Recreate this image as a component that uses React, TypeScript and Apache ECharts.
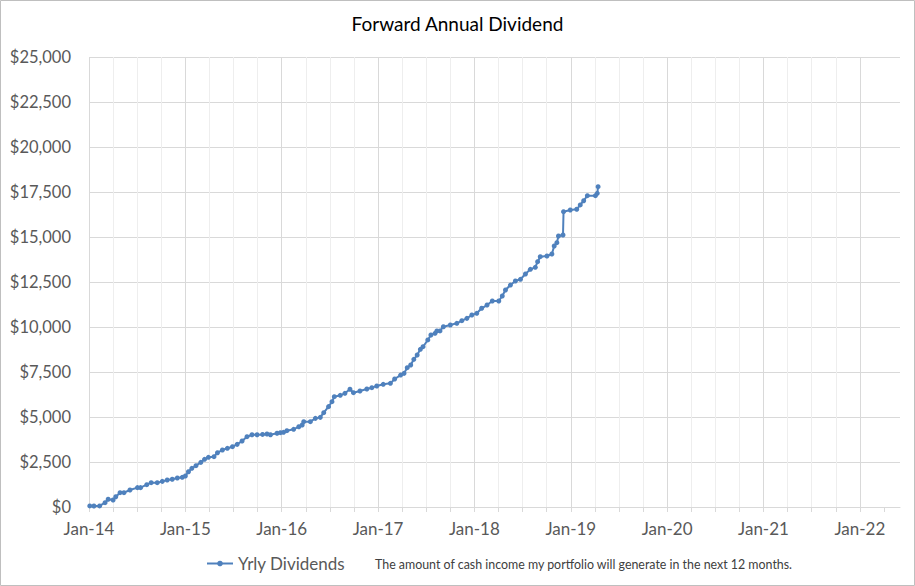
import React, { useEffect, useRef } from "react";
import * as echarts from "echarts";

const TITLE = "Forward Annual Dividend";
const SERIES_NAME = "Yrly Dividends";
const NOTE = "The amount of cash income my portfolio will generate in the next 12 months.";

const YEAR_LABELS = ["Jan-14", "Jan-15", "Jan-16", "Jan-17", "Jan-18", "Jan-19", "Jan-20", "Jan-21", "Jan-22"];

const DATES = [
  "2014-01-04", "2014-01-20", "2014-02-10", "2014-03-01", "2014-03-13", "2014-04-01", "2014-04-11", "2014-04-27",
  "2014-05-12", "2014-06-04", "2014-07-02", "2014-07-14", "2014-08-07", "2014-08-24", "2014-09-16", "2014-10-05",
  "2014-10-24", "2014-11-12", "2014-12-01", "2014-12-20", "2015-01-01", "2015-01-13", "2015-01-26", "2015-02-10",
  "2015-02-27", "2015-03-13", "2015-03-28", "2015-04-18", "2015-05-01", "2015-05-20", "2015-06-08", "2015-06-27",
  "2015-07-15", "2015-08-03", "2015-08-22", "2015-09-10", "2015-09-29", "2015-10-20", "2015-11-06", "2015-11-19",
  "2015-12-14", "2015-12-27", "2016-01-08", "2016-01-21", "2016-02-15", "2016-03-05", "2016-03-18", "2016-03-24",
  "2016-04-18", "2016-05-07", "2016-05-26", "2016-06-08", "2016-06-26", "2016-07-09", "2016-07-18", "2016-08-10",
  "2016-08-28", "2016-09-16", "2016-09-29", "2016-10-24", "2016-11-19", "2016-12-08", "2016-12-27", "2017-01-21",
  "2017-02-16", "2017-03-03", "2017-03-26", "2017-04-08", "2017-04-20", "2017-05-03", "2017-05-15", "2017-05-28",
  "2017-06-09", "2017-06-19", "2017-07-07", "2017-07-19", "2017-08-04", "2017-08-11", "2017-08-23", "2017-09-05",
  "2017-10-01", "2017-10-26", "2017-11-14", "2017-12-03", "2017-12-22", "2018-01-10", "2018-01-29", "2018-02-17",
  "2018-03-08", "2018-04-02", "2018-04-15", "2018-04-27", "2018-05-16", "2018-06-04", "2018-06-23", "2018-07-12",
  "2018-07-31", "2018-08-19", "2018-08-28", "2018-09-07", "2018-10-02", "2018-10-21", "2018-10-30", "2018-11-09",
  "2018-11-15", "2018-12-02", "2018-12-04", "2018-12-30", "2019-01-24", "2019-02-06", "2019-02-18", "2019-03-03",
  "2019-04-03", "2019-04-10", "2019-04-13",
];

const VALUES = [
  60, 55, 60, 240, 430, 390, 570, 795,
  795, 945, 1075, 1075, 1240, 1350, 1350, 1425,
  1500, 1540, 1610, 1650, 1720, 1960, 2150, 2295,
  2480, 2650, 2760, 2795, 3015, 3165, 3260, 3350,
  3480, 3665, 3905, 4015, 4015, 4030, 4055, 4015,
  4095, 4130, 4150, 4240, 4315, 4460, 4555, 4740,
  4740, 4925, 4980, 5240, 5575, 5850, 6130, 6205,
  6315, 6540, 6350, 6445, 6555, 6630, 6720, 6815,
  6870, 7110, 7330, 7425, 7740, 7890, 8205, 8445,
  8760, 8905, 9280, 9555, 9650, 9780, 9780, 10015,
  10110, 10205, 10350, 10480, 10665, 10760, 11040, 11220,
  11445, 11445, 11720, 12055, 12330, 12555, 12650, 12945,
  13205, 13315, 13630, 13905, 13945, 14055, 14500, 14685,
  15055, 15110, 16405, 16500, 16540, 16780, 17015, 17295,
  17295, 17425, 17795,
];

const Y_MIN = 0;
const Y_MAX = 25000;
const Y_STEP = 2500;
const X_START_YEAR = 2014;
const X_MAX_MONTHS = 101;
const X_STEP_MONTHS = 3;

function toMonths(d: string): number {
  const [y, m, day] = d.split("-").map(Number);
  const dim = new Date(Date.UTC(y, m, 0)).getUTCDate();
  return (y - X_START_YEAR) * 12 + (m - 1) + (day - 1) / dim;
}

function money(v: number): string {
  return "$" + Math.round(v).toLocaleString("en-US");
}

const FONT = "Lato";

export default function App() {
  const ref = useRef<HTMLDivElement>(null);

  useEffect(() => {
    document.body.style.margin = "0";
    if (!ref.current) return;
    const chart = echarts.init(ref.current, undefined, { renderer: "svg" });
    const tickValues: number[] = [];
    for (let v = 0; v < X_MAX_MONTHS; v += X_STEP_MONTHS) tickValues.push(v);

    chart.setOption({
      animation: false,
      backgroundColor: "#ffffff",
      textStyle: { fontFamily: FONT },
      title: {
        text: TITLE,
        left: "center",
        top: 9,
        textStyle: { fontFamily: FONT, fontSize: 19, fontWeight: "normal", color: "#000000" },
      },
      grid: { left: 89, right: 15, top: 57, bottom: 79, containLabel: false },
      legend: {
        data: [SERIES_NAME],
        left: 206,
        top: 555,
        padding: 0,
        itemWidth: 26,
        itemHeight: 7,
        textStyle: { fontFamily: FONT, fontSize: 17, color: "#595959" },
      },
      xAxis: {
        type: "value",
        min: 0,
        max: X_MAX_MONTHS,
        interval: X_STEP_MONTHS,
        axisLine: { show: true, lineStyle: { color: "#D9D9D9", width: 1 } },
        axisTick: {
          show: true,
          length: 5,
          customValues: tickValues,
          lineStyle: { color: "#D9D9D9" },
        },
        axisLabel: {
          show: true,
          margin: 13,
          showMaxLabel: false,
          fontFamily: FONT,
          fontSize: 17,
          color: "#595959",
          formatter: (v: number) => {
            const q = v / 12;
            if (Math.abs(q - Math.round(q)) < 1e-6) return YEAR_LABELS[Math.round(q)] ?? "";
            return "";
          },
        },
        splitLine: {
          show: true,
          showMaxLine: false,
          lineStyle: { color: ["#D9D9D9", "#EEEEEE", "#EEEEEE", "#EEEEEE"], width: 1 },
        },
      },
      yAxis: {
        type: "value",
        min: Y_MIN,
        max: Y_MAX,
        interval: Y_STEP,
        axisLine: { show: false },
        axisTick: { show: false },
        axisLabel: {
          margin: 18,
          fontFamily: FONT,
          fontSize: 16.5,
          color: "#595959",
          formatter: (v: number) => money(v),
        },
        splitLine: { show: true, lineStyle: { color: "#D9D9D9", width: 1 } },
      },
      series: [
        {
          name: SERIES_NAME,
          type: "line",
          data: DATES.map((d, i) => [toMonths(d), VALUES[i]]),
          symbol: "circle",
          symbolSize: 5,
          showSymbol: true,
          lineStyle: { color: "#4F81BD", width: 2 },
          itemStyle: { color: "#4F81BD" },
        },
      ],
      graphic: [
        {
          type: "rect",
          shape: { x: 0.5, y: 0.5, width: 914, height: 585 },
          style: { fill: "none", stroke: "#BFBFBF", lineWidth: 1 },
          silent: true,
        },
        {
          type: "text",
          left: 375,
          top: 558,
          style: { text: NOTE, fontFamily: FONT, fontSize: 12.4, fill: "#404040" },
          silent: true,
        },
      ],
    });
    return () => chart.dispose();
  }, []);

  return (
    <div
      ref={ref}
      style={{ position: "absolute", left: 0, top: 0, width: 915, height: 586 }}
    />
  );
}
